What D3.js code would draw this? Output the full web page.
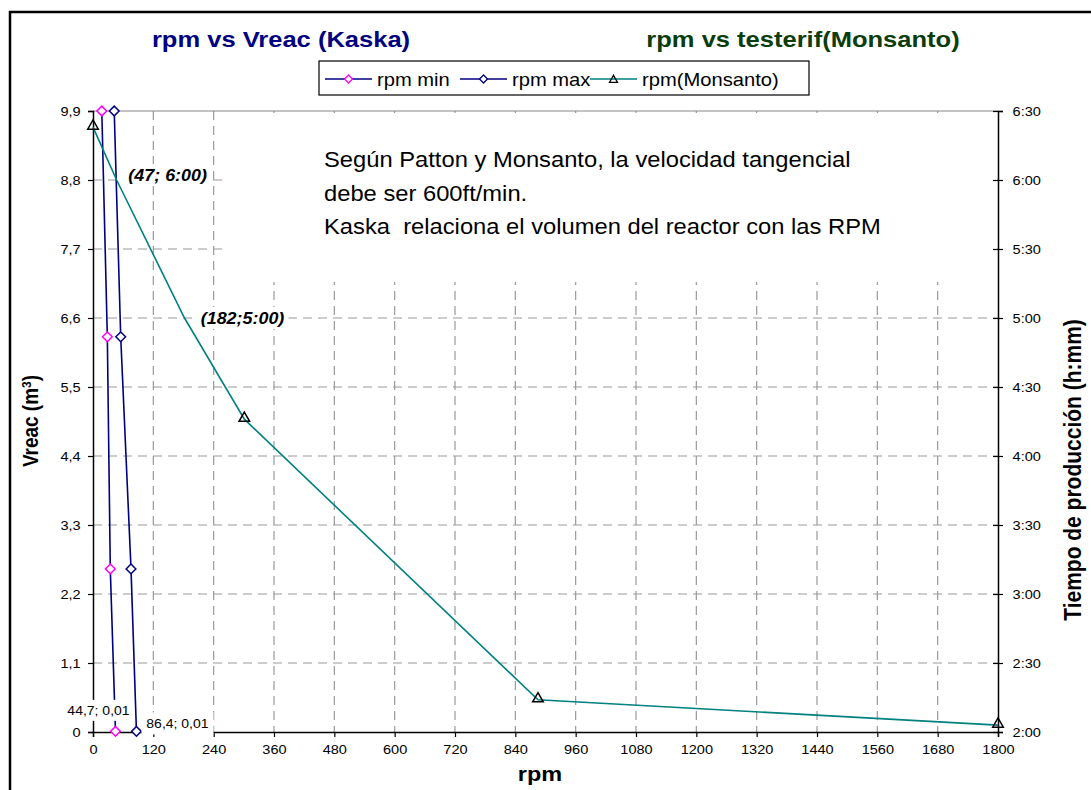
<!DOCTYPE html>
<html>
<head>
<meta charset="utf-8">
<script src="https://cdn.jsdelivr.net/npm/d3@7"></script>
<style>
body { margin: 0; background: #fff; }
svg text { font-family: "Liberation Sans", Arial, sans-serif; white-space: pre; }
</style>
</head>
<body>
<div id="app"></div>
<script>
// Kaska series: reactor volume vs rpm
let vreac = [9.9, 6.3, 2.6, 0.01];
let rpmMin = [17.5, 28.5, 34.4, 44.7];
let rpmMax = [42.2, 55.1, 75.6, 86.4];

// Monsanto series: rpm vs production time (minutes)
let monRpm = [0, 47, 182, 301, 885, 1800];
let monTime = [383, 360, 300, 256, 134, 123];
let monMarker = [true, false, false, true, true, true];

// ticks
let xTicks = [0, 120, 240, 360, 480, 600, 720, 840, 960, 1080, 1200, 1320, 1440, 1560, 1680, 1800];
let yTicks = [0, 1.1, 2.2, 3.3, 4.4, 5.5, 6.6, 7.7, 8.8, 9.9];
let timeTicks = [120, 150, 180, 210, 240, 270, 300, 330, 360, 390];

let noteLines = ["Según Patton y Monsanto, la velocidad tangencial", "debe ser 600ft/min.", "Kaska  relaciona el volumen del reactor con las RPM"];

let SX = 1.12; // the picture is a bit wider than tall, so is its text

let svg = d3.select("#app")
.append("svg")
    .attr("width", 1091)
    .attr("height", 790)

let pLeft = 93, pRight = 998, pTop = 111, pBottom = 732;

let x = d3.scaleLinear().domain([0, 1800]).range([pLeft, pRight]);
let y = d3.scaleLinear().domain([0, 9.9]).range([pBottom, pTop]);
let yT = d3.scaleLinear().domain([120, 390]).range([pBottom, pTop]);

let commaFmt = d => d === 0 ? "0" : d.toFixed(1).replace(".", ",");
let timeFmt = d => Math.floor(d / 60) + ":" + d3.format("02")(d % 60);

// text helper, stretched horizontally like the original
function txt(parent, px, py, s, size, opts) {
    opts = opts || {};
    let t = parent.append("text")
        .attr("transform", "translate(" + px + "," + py + ") scale(" + SX + ",1)" + (opts.rotate ? " rotate(" + opts.rotate + ")" : ""))
        .attr("font-size", size)
        .attr("text-anchor", opts.anchor || "start")
        .attr("fill", opts.fill || "#000")
        .attr("font-weight", opts.bold ? "bold" : "normal")
        .attr("font-style", opts.italic ? "italic" : "normal")
        .text(s);
    return t;
}

// outer frame
svg.append("path")
    .attr("d", "M10,790 V12 H1091")
    .attr("fill", "none")
    .attr("stroke", "#000")
    .attr("stroke-width", 2.5)

// titles
txt(svg, 281, 47, "rpm vs Vreac (Kaska)", 22.8, {anchor: "middle", bold: true, fill: "#000080"});
txt(svg, 803, 47, "rpm vs testerif(Monsanto)", 22.8, {anchor: "middle", bold: true, fill: "#0a3d0a"});

// grid
let grid = svg.append("g").attr("stroke", "#999").attr("stroke-dasharray", "9,6").attr("stroke-width", 1.2);
grid.selectAll(".gx")
    .data(xTicks.slice(1, -1))
    .enter()
    .append("line")
        .attr("x1", d => x(d)).attr("x2", d => x(d))
        .attr("y1", pTop).attr("y2", pBottom)
grid.selectAll(".gy")
    .data(yTicks.slice(1, -1))
    .enter()
    .append("line")
        .attr("x1", pLeft).attr("x2", pRight)
        .attr("y1", d => y(d)).attr("y2", d => y(d))

// top border of plot area
svg.append("line")
    .attr("x1", pLeft).attr("x2", pRight)
    .attr("y1", pTop).attr("y2", pTop)
    .attr("stroke", "#888")
    .attr("stroke-width", 1.2)

// note box
svg.append("rect")
    .attr("x", 224).attr("y", pTop + 2)
    .attr("width", pRight - 225).attr("height", 169)
    .attr("fill", "#fff")
noteLines.forEach((s, i) => txt(svg, 324, 167 + i * 33.5, s, 21.2));

// axes
let axL = svg.append("g")
    .attr("transform", "translate(" + pLeft + ",0)")
    .call(d3.axisLeft(y).tickValues(yTicks).tickFormat(commaFmt).tickSize(5).tickPadding(6));
let axB = svg.append("g")
    .attr("transform", "translate(0," + pBottom + ")")
    .call(d3.axisBottom(x).tickValues(xTicks).tickFormat(d3.format("d")).tickSize(5).tickPadding(8));
let axR = svg.append("g")
    .attr("transform", "translate(" + pRight + ",0)")
    .call(d3.axisRight(yT).tickValues(timeTicks).tickFormat(timeFmt).tickSize(5).tickPadding(8));
axR.selectAll(".tick line").attr("x1", -5);
[axL, axB, axR].forEach(a => {
    a.select(".domain").attr("stroke-width", 1.5);
    a.selectAll(".tick line").attr("stroke-width", 1.2);
    a.selectAll("text")
        .attr("font-size", 13)
        .attr("font-family", "Liberation Sans, Arial, sans-serif")
        .attr("transform", "scale(" + SX + ",1)");
});

// axis titles
txt(svg, 540, 781, "rpm", 21, {anchor: "middle", bold: true});
let vt = txt(svg, 38, 421, "Vreac (m", 19, {anchor: "middle", bold: true, rotate: -90});
vt.append("tspan").attr("baseline-shift", "super").attr("font-size", 12).text("3");
vt.append("tspan").text(")");
txt(svg, 1081, 470, "Tiempo de producción (h:mm)", 21, {anchor: "middle", bold: true, rotate: -90});

// series lines
let kaskaLine = d3.line().x(d => x(d[0])).y(d => y(d[1]));
let monLine = d3.line().x(d => x(d[0])).y(d => yT(d[1]));

let minPts = rpmMin.map((r, i) => [r, vreac[i]]);
let maxPts = rpmMax.map((r, i) => [r, vreac[i]]);
let monPts = monRpm.map((r, i) => [r, monTime[i], monMarker[i]]);

svg.append("path").datum(minPts)
    .attr("d", kaskaLine).attr("fill", "none").attr("stroke", "#000080").attr("stroke-width", 1.6)
svg.append("path").datum(maxPts)
    .attr("d", kaskaLine).attr("fill", "none").attr("stroke", "#000080").attr("stroke-width", 1.6)
svg.append("path").datum(monPts)
    .attr("d", monLine).attr("fill", "none").attr("stroke", "#008080").attr("stroke-width", 1.6)

// markers
let diamond = d3.symbol().type(d3.symbolDiamond2).size(60);
let tri = d3.symbol().type(d3.symbolTriangle2).size(80);

svg.selectAll(".mmin")
    .data(minPts)
    .enter()
    .append("path")
        .attr("transform", d => "translate(" + x(d[0]) + "," + y(d[1]) + ")")
        .attr("d", diamond)
        .attr("fill", "#fff").attr("stroke", "#ff00ff").attr("stroke-width", 1.5)
svg.selectAll(".mmax")
    .data(maxPts)
    .enter()
    .append("path")
        .attr("transform", d => "translate(" + x(d[0]) + "," + y(d[1]) + ")")
        .attr("d", diamond)
        .attr("fill", "#fff").attr("stroke", "#000080").attr("stroke-width", 1.5)
svg.selectAll(".mmon")
    .data(monPts.filter(d => d[2]))
    .enter()
    .append("path")
        .attr("transform", d => "translate(" + x(d[0]) + "," + (yT(d[1]) - 1) + ")")
        .attr("d", tri)
        .attr("fill", "none").attr("stroke", "#000").attr("stroke-width", 1.5)

// data labels with white background
function boxLabel(cx, cy, w, h, s, size, opts) {
    svg.append("rect")
        .attr("x", cx - w / 2).attr("y", cy - h / 2)
        .attr("width", w).attr("height", h)
        .attr("fill", "#fff")
    txt(svg, cx, cy + size * 0.36, s, size, Object.assign({anchor: "middle"}, opts));
}
let last = vreac.length - 1;
boxLabel(x(rpmMin[last]) - 17, y(vreac[last]) - 21, 66, 21,
    d3.format(".1f")(rpmMin[last]).replace(".", ",") + "; " + "0,01", 12.5);
boxLabel(x(rpmMax[last]) + 41, y(vreac[last]) - 8, 72, 22,
    d3.format(".1f")(rpmMax[last]).replace(".", ",") + "; " + "0,01", 12.5);
boxLabel(x(monRpm[1]) + 51, yT(monTime[1]) - 5, 90, 22,
    "(" + monRpm[1] + "; " + timeFmt(monTime[1]) + ")", 16, {bold: true, italic: true});
boxLabel(x(monRpm[2]) + 58, yT(monTime[2]), 92, 22,
    "(" + monRpm[2] + ";" + timeFmt(monTime[2]) + ")", 16, {bold: true, italic: true});

// legend
let lg = svg.append("g");
lg.append("rect")
    .attr("x", 319).attr("y", 61)
    .attr("width", 490).attr("height", 34)
    .attr("fill", "#fff").attr("stroke", "#000").attr("stroke-width", 1.2)
let legendItems = [
    {name: "rpm min", x0: 325, line: "#000080", mark: diamond, mstroke: "#ff00ff"},
    {name: "rpm max", x0: 460, line: "#000080", mark: diamond, mstroke: "#000080"},
    {name: "rpm(Monsanto)", x0: 590, line: "#008080", mark: tri, mstroke: "#000"}
];
legendItems.forEach(d => {
    lg.append("line")
        .attr("x1", d.x0).attr("x2", d.x0 + 47)
        .attr("y1", 79).attr("y2", 79)
        .attr("stroke", d.line).attr("stroke-width", 1.6)
    lg.append("path")
        .attr("transform", "translate(" + (d.x0 + 23.5) + "," + (d.mark === tri ? 80 : 79) + ")")
        .attr("d", d.mark === tri ? d3.symbol().type(d3.symbolTriangle2).size(45) : d3.symbol().type(d3.symbolDiamond2).size(40))
        .attr("fill", d.mark === tri ? "none" : "#fff")
        .attr("stroke", d.mstroke).attr("stroke-width", 1.3)
    txt(lg, d.x0 + 52, 85.5, d.name, 18);
});
</script>
</body>
</html>
